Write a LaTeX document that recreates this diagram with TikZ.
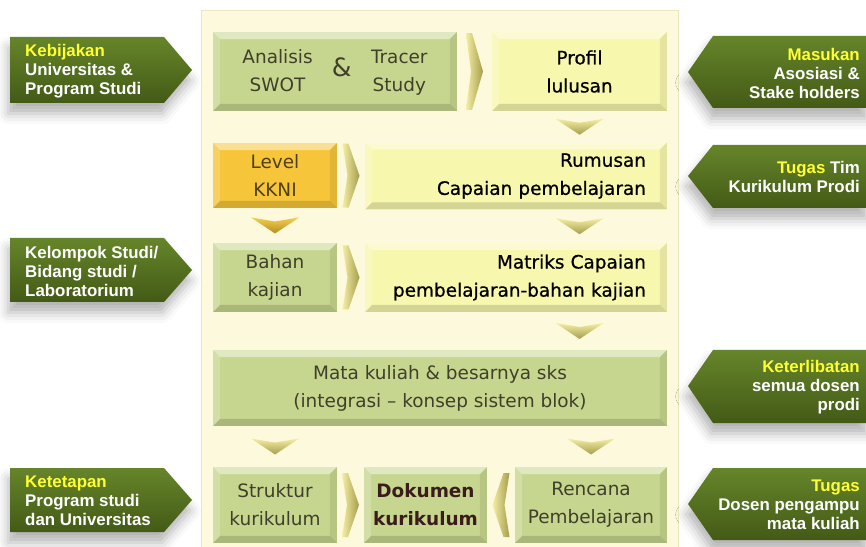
\documentclass[tikz,border=0pt]{standalone}
\usepackage{fontspec}
\newfontfamily\boxfont{DejaVu Sans}
\newfontfamily\boxheavyfont{DejaVu Sans}[FakeBold=0.8]
\newfontfamily\labelfont{Liberation Sans}
\usetikzlibrary{calc,shadows.blur}
\definecolor{panelfill}{HTML}{FCF9DC}
\definecolor{panelline}{HTML}{ECE7BD}
\definecolor{boxgreen}{HTML}{C7D68F}
\definecolor{boxyellow}{HTML}{F8F7AE}
\definecolor{boxorange}{HTML}{F6C53A}
\definecolor{textgreen}{HTML}{3F3F2A}
\definecolor{textorange}{HTML}{4F3F16}
\definecolor{textdoc}{HTML}{3B1C1C}
\definecolor{sidelight}{HTML}{66852A}
\definecolor{sidedark}{HTML}{435A16}
\definecolor{hilite}{HTML}{FFFF33}
\definecolor{chevlight}{HTML}{F4EEA4}
\definecolor{chevdark}{HTML}{A69E4C}
\definecolor{goldlight}{HTML}{F3CD50}
\definecolor{golddark}{HTML}{B58F1E}
\tikzset{bevel/.style={path picture={
   \path (path picture bounding box.north west) coordinate (pa)
         (path picture bounding box.north east) coordinate (pb)
         (path picture bounding box.south east) coordinate (pc)
         (path picture bounding box.south west) coordinate (pd);
   \fill[white,opacity=.45] (pa)--(pb)--([shift={(-4pt,-4pt)}]pb)--([shift={(4pt,-4pt)}]pa)--cycle;
   \fill[white,opacity=.2] (pa)--(pd)--([shift={(4pt,4pt)}]pd)--([shift={(4pt,-4pt)}]pa)--cycle;
   \fill[black,opacity=.14] (pd)--(pc)--([shift={(-4pt,4pt)}]pc)--([shift={(4pt,4pt)}]pd)--cycle;
   \fill[black,opacity=.08] (pb)--(pc)--([shift={(-4pt,4pt)}]pc)--([shift={(-4pt,-4pt)}]pb)--cycle;}},
 box/.style={rectangle,inner sep=2pt,align=center,bevel,
   font=\boxfont\fontsize{10.5}{16}\selectfont},
 greenbox/.style={box,fill=boxgreen,text=textgreen},
 yellowbox/.style={box,fill=boxyellow,text=black,font=\boxheavyfont\fontsize{10.5}{16}\selectfont},
 orangebox/.style={box,fill=boxorange,text=textorange},
 sidearrow/.style={top color=sidelight,bottom color=sidedark,
   blur shadow={shadow xshift=-1pt,shadow yshift=-6pt,shadow blur radius=6pt,shadow opacity=30}},
 lefttext/.style={anchor=west,align=left,text=white,
   font=\labelfont\bfseries\fontsize{9.6}{10.8}\selectfont},
 righttext/.style={lefttext,anchor=east,align=right},
 chevr/.style={left color=chevlight,middle color=chevlight,right color=chevdark},
 chevd/.style={top color=chevlight,bottom color=chevdark},
 rchev/.pic={\path[chevr] (-8.5,-32)--(-2.5,-32)--(8.5,0)--(-2.5,32)--(-8.5,32)--(-3.5,0)--cycle;},
 dchev/.pic={\path[chevd] (-24,-8)--(0,-4)--(24,-8)--(0,8)--cycle;},
 goldchev/.pic={\path[top color=goldlight,bottom color=golddark] (-24,-8)--(0,-4)--(24,-8)--(0,8)--cycle;}}

\begin{document}
\begin{tikzpicture}[x=0.02cm,y=-0.02cm]
\useasboundingbox (0,0) rectangle (866,547);
\draw[panelline,fill=panelfill] (201,10) rectangle (678,552);

% side arrows, left
\path[sidearrow] (10,37)--(164,37)--(192,70)--(164,103)--(10,103)--cycle;
\path[sidearrow] (10,238)--(164,238)--(192,270)--(164,302)--(10,302)--cycle;
\path[sidearrow] (10,468)--(164,468)--(192,500)--(164,532)--(10,532)--cycle;
\node[lefttext] (kebijakan) at (19,71) {\textcolor{hilite}{Kebijakan}\\Universitas \&\\Program Studi};
\node[lefttext] (kelompok) at (19,271) {Kelompok Studi/\\Bidang studi /\\Laboratorium};
\node[lefttext] (ketetapan) at (19,501) {\textcolor{hilite}{Ketetapan}\\Program studi\\dan Universitas};

% side arrows, right
\path[sidearrow] (868,36)--(713,36)--(688,72)--(713,108)--(868,108)--cycle;
\path[sidearrow] (868,145)--(713,145)--(688,176)--(713,208)--(868,208)--cycle;
\path[sidearrow] (868,350)--(713,350)--(688,386)--(713,423)--(868,423)--cycle;
\path[sidearrow] (868,468)--(713,468)--(688,504)--(713,540)--(868,540)--cycle;
\node[righttext] (masukan) at (866,73) {\textcolor{hilite}{Masukan}\\Asosiasi \&\\Stake holders};
\node[righttext] (tugastim) at (866,177) {\textcolor{hilite}{Tugas} Tim\\Kurikulum Prodi};
\node[righttext] (keterlibatan) at (866,387) {\textcolor{hilite}{Keterlibatan}\\semua dosen\\prodi};
\node[righttext] (tugasdosen) at (866,505) {\textcolor{hilite}{Tugas}\\Dosen pengampu\\mata kuliah};

% boxes
\node[greenbox,minimum width=4.88cm,minimum height=1.58cm] (swot) at (335,71.5)
  {\begin{tabular}{@{}c@{}}Analisis\\SWOT\end{tabular}\hspace{11pt}{\Large\&}\hspace{11pt}\begin{tabular}{@{}c@{}}Tracer\\Study\end{tabular}};
\node[yellowbox,minimum width=3.5cm,minimum height=1.58cm] (profil) at (579.5,71.5) {Profil\\lulusan};
\node[orangebox,minimum width=2.48cm,minimum height=1.3cm] (kkni) at (275,175.5) {Level\\KKNI};
\node[yellowbox,minimum width=6.04cm,minimum height=1.34cm,text width=5.2cm,align=right] (rumusan) at (516,176)
  {Rumusan\\Capaian pembelajaran};
\node[greenbox,minimum width=2.48cm,minimum height=1.38cm] (bahan) at (275,277.5) {Bahan\\kajian};
\node[yellowbox,minimum width=6.04cm,minimum height=1.38cm,text width=5.2cm,align=right] (matriks) at (516,277.5)
  {Matriks Capaian\\pembelajaran-bahan kajian};
\node[greenbox,minimum width=9.08cm,minimum height=1.52cm] (matakuliah) at (440,388)
  {Mata kuliah \& besarnya sks\\(integrasi – konsep sistem blok)};
\node[greenbox,minimum width=2.48cm,minimum height=1.52cm] (struktur) at (275,505) {Struktur\\kurikulum};
\node[greenbox,minimum width=2.46cm,minimum height=1.52cm,text=textdoc,font=\boxfont\bfseries\fontsize{10.5}{16}\selectfont] (dokumen) at (425.5,505) {Dokumen\\kurikulum};
\node[greenbox,minimum width=3.04cm,minimum height=1.52cm] (rencana) at (591,505) {Rencana\\Pembelajaran};

% chevrons
\path ($(swot.east)!.5!(profil.west)$) pic[yscale=1.2] {rchev};
\path ($(kkni.east)!.5!(rumusan.west)$) pic {rchev};
\path ($(bahan.east)!.5!(matriks.west)$) pic {rchev};
\path ($(struktur.east)!.5!(dokumen.west)$) pic {rchev};
\path ($(rencana.west)!.5!(dokumen.east)$) pic[xscale=-1] {rchev};
\path ($(profil.south)!.5!(profil.south|-rumusan.north)$) pic {dchev};
\path ($(profil.south|-rumusan.south)!.5!(profil.south|-matriks.north)$) pic {dchev};
\path ($(profil.south|-matriks.south)!.5!(profil.south|-matakuliah.north)$) pic {dchev};
\path ($(kkni.south)!.5!(bahan.north)$) pic {goldchev};
\path ($(struktur.north|-matakuliah.south)!.5!(struktur.north)$) pic {dchev};
\path ($(rencana.north|-matakuliah.south)!.5!(rencana.north)$) pic {dchev};
\end{tikzpicture}
\end{document}
